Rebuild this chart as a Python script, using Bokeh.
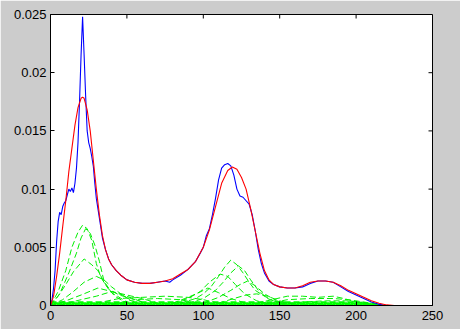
from bokeh.plotting import figure
from bokeh.models import Range1d, FixedTicker
from bokeh.embed import file_html
from bokeh.resources import INLINE

# ---- data ----
x_ticks = [0, 50, 100, 150, 200, 250]
y_ticks = [0, 0.005, 0.01, 0.015, 0.02, 0.025]
y_tick_labels = ["0", "0.005", "0.01", "0.015", "0.02", "0.025"]

blue_x = [0, 1, 2, 3, 4, 5, 6, 7, 8, 9, 10, 11, 12, 13, 14, 15, 16, 17, 18, 19, 20, 21, 22, 23, 24,
          25, 26, 27, 28, 29, 30, 32, 34, 36, 38, 40, 43, 46, 50, 55, 60, 65, 70, 75, 78, 80, 85,
          90, 95, 98, 100, 102, 104, 106, 108, 110, 112, 114, 116, 118, 120, 122, 124, 126, 128,
          130, 132, 134, 136, 138, 140, 143, 146, 150, 155, 160, 165, 170, 175, 180, 185, 190,
          195, 200, 205, 210, 215, 220]
blue_y = [0, 0.0005, 0.0015, 0.003, 0.0055, 0.0072, 0.0080, 0.0078, 0.0085, 0.0088, 0.0090,
          0.0095, 0.0100, 0.0098, 0.0101, 0.0097, 0.0105, 0.0118, 0.0140, 0.0175, 0.0215, 0.0248,
          0.0215, 0.0180, 0.0150, 0.0140, 0.0135, 0.0128, 0.0120, 0.0105, 0.0092, 0.0075, 0.0058,
          0.0048, 0.0040, 0.0035, 0.0030, 0.0026, 0.0022, 0.0020, 0.0019, 0.0019, 0.0020, 0.0021,
          0.0020, 0.0022, 0.0026, 0.0031, 0.0038, 0.0045, 0.0050, 0.0060, 0.0066, 0.0078, 0.0092,
          0.0108, 0.0118, 0.0121, 0.0122, 0.0120, 0.0112, 0.0100, 0.0094, 0.0093, 0.0090, 0.0087,
          0.0078, 0.0064, 0.0048, 0.0036, 0.0028, 0.0021, 0.0018, 0.0016, 0.0015, 0.0015, 0.0016,
          0.0019, 0.0021, 0.0021, 0.0020, 0.0016, 0.0012, 0.0009, 0.0006, 0.0003, 0.0001, 0.0]

red_x = [0, 2, 4, 6, 8, 10, 12, 14, 16, 18, 20, 21, 22, 24, 26, 28, 30, 32, 34, 36, 38, 40, 43,
         46, 50, 55, 60, 65, 70, 75, 80, 85, 90, 95, 100, 104, 108, 112, 116, 119, 122, 125, 128,
         131, 134, 137, 140, 143, 146, 150, 155, 160, 165, 170, 175, 180, 185, 190, 195, 200,
         205, 210, 215, 220, 225]
red_y = [0, 0.0008, 0.0025, 0.0045, 0.0068, 0.0090, 0.0115, 0.0135, 0.0155, 0.0170, 0.0178,
         0.0179, 0.0178, 0.0168, 0.0150, 0.0125, 0.0100, 0.0078, 0.0060, 0.0048, 0.0040, 0.0035,
         0.0030, 0.0026, 0.0022, 0.0020, 0.0019, 0.0019, 0.0020, 0.0021, 0.0023, 0.0027, 0.0031,
         0.0038, 0.0050, 0.0065, 0.0085, 0.0105, 0.0116, 0.0119, 0.0117, 0.0110, 0.0100, 0.0083,
         0.0064, 0.0045, 0.0030, 0.0022, 0.0018, 0.0016, 0.0015, 0.0015, 0.0017, 0.0020, 0.0021,
         0.0021, 0.0020, 0.0017, 0.0013, 0.0010, 0.0007, 0.0004, 0.0002, 0.00005, 0]

# green dashed mixture components (each a list of points)
green_x = [
    [0, 5, 10, 14, 18, 21, 24, 27, 30, 33, 38, 45, 53, 60],
    [0, 6, 12, 17, 20, 23, 26, 29, 32, 35, 40, 50],
    [0, 5, 10, 15, 22, 27, 31, 36, 42, 50],
    [0, 8, 15, 22, 30, 35, 40, 48, 55],
    [0, 10, 20, 31, 40, 52, 60],
    [5, 20, 30, 40, 50, 60, 70],
    [30, 45, 60, 75, 90, 100, 110],
    [40, 55, 70, 85, 100],
    [85, 95, 100, 105, 110, 114, 118, 122, 126, 130, 134, 140, 146, 155],
    [90, 100, 108, 113, 118, 123, 127, 131, 136, 142, 150],
    [80, 90, 98, 104, 111, 116, 121, 127, 135, 145],
    [100, 110, 118, 124, 129, 134, 140, 148, 158],
    [80, 90, 97, 103, 110, 118, 128],
    [110, 120, 128, 135, 142, 150, 160],
    [135, 145, 155, 165, 175, 185, 192, 200, 210],
    [140, 155, 170, 185, 195, 205, 215],
    [150, 165, 180, 195, 210, 218],
]
green_y = [
    [0, 0.0012, 0.003, 0.005, 0.0063, 0.0069, 0.0066, 0.0056, 0.0036, 0.0024, 0.0014, 0.0009, 0.0006, 0.0003],
    [0, 0.001, 0.0028, 0.0045, 0.0058, 0.0066, 0.0062, 0.0052, 0.0038, 0.0021, 0.0011, 0.0003],
    [0, 0.0008, 0.0018, 0.0029, 0.004, 0.0035, 0.003, 0.0018, 0.0008, 0.0002],
    [0, 0.0005, 0.0012, 0.002, 0.0025, 0.0022, 0.0016, 0.0008, 0.0003],
    [0, 0.0004, 0.0009, 0.0015, 0.0012, 0.0007, 0.0003],
    [0, 0.0005, 0.0008, 0.0012, 0.0009, 0.0006, 0.0002],
    [0.0002, 0.0006, 0.0007, 0.0008, 0.0007, 0.0005, 0.0002],
    [0.0001, 0.0005, 0.0006, 0.0005, 0.0001],
    [0.0002, 0.0006, 0.001, 0.0016, 0.0025, 0.0033, 0.0039, 0.0035, 0.0028, 0.002, 0.0013, 0.0008, 0.0004, 0.0001],
    [0.0002, 0.0006, 0.0013, 0.002, 0.0028, 0.0034, 0.003, 0.0022, 0.0013, 0.0006, 0.0002],
    [0.0002, 0.0006, 0.0012, 0.002, 0.0027, 0.0025, 0.0018, 0.001, 0.0004, 0.0001],
    [0.0002, 0.0007, 0.0013, 0.0018, 0.0021, 0.0017, 0.001, 0.0004, 0.0001],
    [0.0002, 0.0007, 0.0011, 0.0015, 0.0011, 0.0006, 0.0002],
    [0.0002, 0.0006, 0.0009, 0.001, 0.0008, 0.0004, 0.0001],
    [0.0002, 0.0005, 0.0008, 0.0008, 0.0007, 0.0008, 0.0006, 0.0003, 0.0001],
    [0.0001, 0.0005, 0.0006, 0.0006, 0.0005, 0.0003, 0.0001],
    [0.0001, 0.0003, 0.0004, 0.0004, 0.0002, 0.0],
]
# near-zero components forming the solid green band along the bottom
floor_x = [0, 40, 80, 120, 160, 200, 215]
floor_levels = [0.00005, 0.00012, 0.0002, 0.00028]

FONT = "Liberation Sans"

p = figure(width=460, height=329, output_backend="svg", toolbar_location=None,
           x_range=Range1d(0, 250), y_range=Range1d(0, 0.025),
           min_border_left=50, min_border_right=28, min_border_top=14, min_border_bottom=24)
p.border_fill_color = "#cccccc"
p.background_fill_color = "white"
p.outline_line_color = "black"
p.outline_line_width = 1
p.xgrid.visible = False
p.ygrid.visible = False

for k, lvl in enumerate(floor_levels):
    fy = [lvl] * (len(floor_x) - 1) + [0.0]
    p.line(floor_x, fy, line_color="#00ff00", line_width=2, line_dash="6 3",
           line_dash_offset=3 * k)
for gx, gy in zip(green_x, green_y):
    p.line(gx, gy, line_color="#00ee00", line_width=1, line_dash="6 3")
p.line(blue_x, blue_y, line_color="#0000ff", line_width=1.1)
p.line(red_x, red_y, line_color="#ff0000", line_width=1.1)

# inward tick marks on the top and right edges (MATLAB box style)
tick_dy = (y_ticks[-1] - y_ticks[0]) * 4 / 291
tick_dx = (x_ticks[-1] - x_ticks[0]) * 4 / 382
p.segment(x0=x_ticks, y0=[y_ticks[-1]] * len(x_ticks), x1=x_ticks,
          y1=[y_ticks[-1] - tick_dy] * len(x_ticks), line_color="black", line_width=1)
p.segment(x0=[x_ticks[-1]] * len(y_ticks), y0=y_ticks, x1=[x_ticks[-1] - tick_dx] * len(y_ticks),
          y1=y_ticks, line_color="black", line_width=1)

def style(ax, standoff):
    ax.axis_line_color = "black"
    ax.major_tick_in = 4
    ax.major_tick_out = 0
    ax.minor_tick_in = 0
    ax.minor_tick_out = 0
    ax.major_tick_line_color = "black"
    ax.major_label_text_font = FONT
    ax.major_label_text_font_size = "13px"
    ax.major_label_text_color = "black"
    ax.major_label_standoff = standoff

xa = p.xaxis[0]
xa.ticker = FixedTicker(ticks=x_ticks)
style(xa, 5)
ya = p.yaxis[0]
ya.ticker = FixedTicker(ticks=y_ticks)
ya.major_label_overrides = {t: l for t, l in zip(y_ticks, y_tick_labels)}
style(ya, 4)

open("out.html", "w").write(file_html(p, INLINE))
